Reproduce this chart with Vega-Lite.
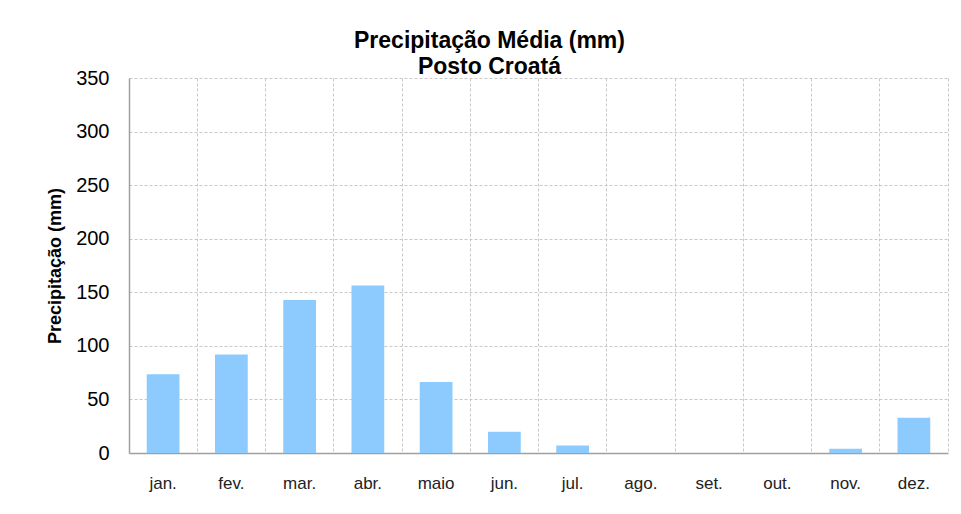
{
  "$schema": "https://vega.github.io/schema/vega-lite/v6.json",
  "width": 819,
  "height": 375,
  "autosize": {"type": "none"},
  "padding": {"left": 129, "top": 78, "right": 13, "bottom": 61},
  "background": "white",
  "title": {
    "text": ["Precipitação Média (mm)", "Posto Croatá"],
    "font": "Liberation Sans",
    "fontSize": 23,
    "fontWeight": "bold",
    "color": "#000000",
    "anchor": "middle",
    "dx": -49,
    "offset": -11,
    "lineHeight": 26
  },
  "data": {
    "values": [
      {"mes": "jan.", "precipitacao": 73.4},
      {"mes": "fev.", "precipitacao": 92.0},
      {"mes": "mar.", "precipitacao": 142.8},
      {"mes": "abr.", "precipitacao": 156.4},
      {"mes": "maio", "precipitacao": 66.3},
      {"mes": "jun.", "precipitacao": 19.9},
      {"mes": "jul.", "precipitacao": 7.1},
      {"mes": "ago.", "precipitacao": 0},
      {"mes": "set.", "precipitacao": 0},
      {"mes": "out.", "precipitacao": 0},
      {"mes": "nov.", "precipitacao": 4.0},
      {"mes": "dez.", "precipitacao": 33.0}
    ]
  },
  "mark": {"type": "bar", "color": "#8DCBFF"},
  "encoding": {
    "x": {
      "field": "mes",
      "type": "nominal",
      "sort": null,
      "scale": {"paddingInner": 0.52, "paddingOuter": 0.26},
      "axis": {
        "title": null,
        "labelAngle": 0,
        "labelFont": "Liberation Sans",
        "labelFontSize": 17,
        "labelColor": "#222222",
        "labelPadding": 22,
        "ticks": false,
        "tickSize": 0,
        "domainColor": "#A0A0A0",
        "domainWidth": 1.5,
        "grid": true,
        "bandPosition": 1.5417,
        "gridColor": "#C8C8C8",
        "gridDash": [3, 2],
        "gridWidth": 1
      }
    },
    "y": {
      "field": "precipitacao",
      "type": "quantitative",
      "scale": {"domain": [0, 350], "nice": false},
      "axis": {
        "title": "Precipitação (mm)",
        "titleFont": "Liberation Sans",
        "titleFontSize": 18,
        "titleFontWeight": "bold",
        "titleColor": "#000000",
        "titlePadding": 11,
        "values": [0, 50, 100, 150, 200, 250, 300, 350],
        "labelFont": "Liberation Sans",
        "labelFontSize": 20,
        "labelColor": "#000000",
        "labelPadding": 20,
        "ticks": false,
        "tickSize": 0,
        "domainColor": "#A0A0A0",
        "domainWidth": 1.5,
        "grid": true,
        "gridColor": "#C8C8C8",
        "gridDash": [3, 2],
        "gridWidth": 1
      }
    }
  },
  "config": {
    "view": {"stroke": null}
  }
}
